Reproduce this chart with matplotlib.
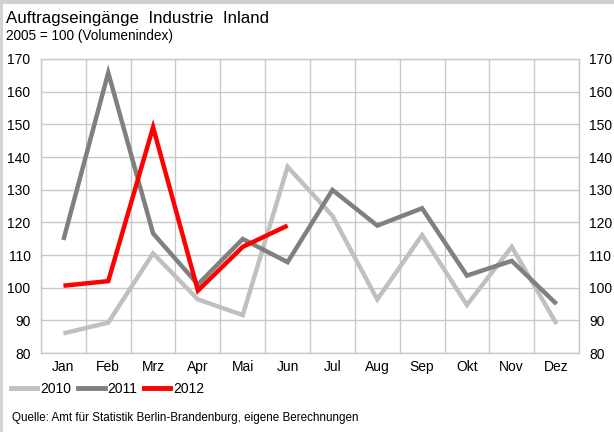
import matplotlib
matplotlib.use("Agg")
import matplotlib.pyplot as plt
from matplotlib.lines import Line2D

plt.rcParams['font.family'] = ['Liberation Sans', 'DejaVu Sans']

months = ["Jan", "Feb", "Mrz", "Apr", "Mai", "Jun",
          "Jul", "Aug", "Sep", "Okt", "Nov", "Dez"]
v2010 = [86.0, 89.3, 110.5, 96.4, 91.6, 137.0, 122.0, 96.4, 116.1, 94.7, 112.5, 88.9]
v2011 = [114.6, 165.8, 116.6, 101.0, 114.9, 107.8, 129.9, 119.0, 124.3, 103.7, 108.2, 95.0]
v2012 = [100.6, 102.0, 149.1, 99.1, 112.5, 119.0]
years = ["2010", "2011", "2012"]
colors = ["#c0c0c0", "#808080", "#ff0000"]
yticks = [80, 90, 100, 110, 120, 130, 140, 150, 160, 170]


def main():
    fig = plt.figure(figsize=(6.14, 4.32), dpi=100)
    ax = fig.add_axes([41 / 614, 1 - 353 / 432, 538 / 614, 294 / 432])

    x = list(range(len(months)))
    for vals, c in zip([v2010, v2011, v2012], colors):
        ax.plot(x[:len(vals)], vals, color=c, lw=3.2, solid_capstyle='butt',
                solid_joinstyle='miter')

    ax.set_xlim(-0.5, 11.5)
    ax.set_ylim(80, 170)
    ax.set_yticks(yticks)
    ax.set_xticks(x)
    ax.set_xticklabels(months)
    ax.set_xticks([i + 0.5 for i in range(-1, 12)], minor=True)
    ax.grid(True, which='minor', axis='x', color='#c8c8c8', lw=1)
    ax.grid(True, which='major', axis='y', color='#c8c8c8', lw=1)
    ax.set_axisbelow(True)
    for s in ax.spines.values():
        s.set_color('#c8c8c8')
        s.set_linewidth(1)
    ax.tick_params(which='both', length=0, labelsize=10, colors='#000000',
                   labelright=True, right=False)
    ax.tick_params(axis='y', pad=7.5)
    ax.tick_params(axis='x', pad=5)

    fig.text(6 / 614, 1 - 18 / 432, "Auftragseingänge  Industrie  Inland",
             fontsize=12.2, va='center', ha='left')
    fig.text(6 / 614, 1 - 36 / 432, "2005 = 100 (Volumenindex)",
             fontsize=9.8, va='center', ha='left')

    handles = [Line2D([], [], color=c, lw=3.5) for c in colors]
    fig.legend(handles, years, loc='center left', bbox_to_anchor=(11 / 614, 1 - 389 / 432),
               ncol=3, frameon=False, fontsize=10, handlelength=1.9,
               handletextpad=0.2, columnspacing=0.5, borderaxespad=0, borderpad=0)

    fig.text(12 / 614, 1 - 418 / 432,
             "Quelle: Amt für Statistik Berlin-Brandenburg, eigene Berechnungen",
             fontsize=8.4, va='center', ha='left')

    # thin grey frame at the left and top edge
    fig.add_artist(Line2D([1 / 614, 1 / 614], [0, 1], color='#d0d0d0', lw=2,
                          transform=fig.transFigure))
    fig.add_artist(Line2D([0, 1], [1 - 1.5 / 432, 1 - 1.5 / 432], color='#d0d0d0', lw=3,
                          transform=fig.transFigure))

    fig.savefig("out.png", dpi=100)


if __name__ == "__main__":
    main()
